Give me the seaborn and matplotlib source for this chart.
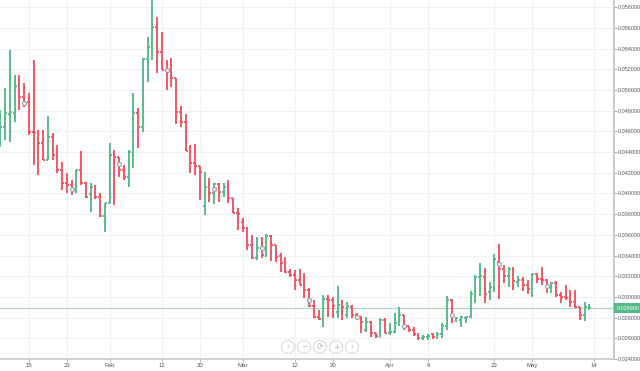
import numpy as np
import pandas as pd
import matplotlib
matplotlib.use("Agg")
import matplotlib.pyplot as plt
import matplotlib.dates as mdates
import matplotlib.transforms as mtransforms
from matplotlib.patches import Ellipse
import seaborn as sns

# ---------------- data ----------------
start_date = "2018-01-09"

opens = [0.04517, 0.04642, 0.04768, 0.04777, 0.05038, 0.04932, 0.04884, 0.04594, 0.04497, 0.04488,
         0.04323, 0.04546, 0.04372, 0.04227, 0.04101, 0.04082, 0.04014, 0.04227, 0.04101, 0.03995,
         0.04034, 0.03966, 0.03782, 0.03908, 0.04372, 0.04352, 0.04227, 0.04159, 0.04401, 0.04777,
         0.04642, 0.05299, 0.05415, 0.05608, 0.05367, 0.05193, 0.05173, 0.05116, 0.04787, 0.04690,
         0.04410, 0.04294, 0.04265, 0.03879, 0.04034, 0.04005, 0.04092, 0.04014, 0.04082, 0.03956,
         0.03811, 0.03724, 0.03666, 0.03502, 0.03377, 0.03473, 0.03406, 0.03589, 0.03502, 0.03396,
         0.03328, 0.03241, 0.03212, 0.03164, 0.03116, 0.03068, 0.02913, 0.02807, 0.02788, 0.02981,
         0.02971, 0.02855, 0.02923, 0.02826, 0.02903, 0.02826, 0.02807, 0.02681, 0.02759, 0.02652,
         0.02613, 0.02778, 0.02652, 0.02662, 0.02749, 0.02826, 0.02720, 0.02681, 0.02643, 0.02604,
         0.02613, 0.02643, 0.02613, 0.02643, 0.02720, 0.02971, 0.02778, 0.02778, 0.02797, 0.02807,
         0.03029, 0.03193, 0.03193, 0.03048, 0.03097, 0.03338, 0.03271, 0.03203, 0.03271, 0.03145,
         0.03164, 0.03116, 0.03077, 0.03222, 0.03174, 0.03164, 0.03048, 0.03135, 0.03019, 0.03000,
         0.02990, 0.02952, 0.02903, 0.02826, 0.02884]

highs = [0.04806, 0.05019, 0.05386, 0.05144, 0.05144, 0.05067, 0.04971, 0.05289, 0.04613, 0.04613,
         0.04748, 0.04584, 0.04468, 0.04304, 0.04198, 0.04130, 0.04227, 0.04410, 0.04111, 0.04101,
         0.04082, 0.04005, 0.03908, 0.04488, 0.04420, 0.04352, 0.04275, 0.04420, 0.04971, 0.04826,
         0.05309, 0.05512, 0.05898, 0.05705, 0.05560, 0.05289, 0.05309, 0.05116, 0.04845, 0.04768,
         0.04468, 0.04478, 0.04265, 0.04207, 0.04150, 0.04101, 0.04101, 0.04101, 0.04130, 0.03956,
         0.03860, 0.03763, 0.03676, 0.03599, 0.03580, 0.03580, 0.03609, 0.03599, 0.03502, 0.03425,
         0.03386, 0.03271, 0.03261, 0.03271, 0.03232, 0.03087, 0.02971, 0.02874, 0.03019, 0.03019,
         0.03000, 0.03106, 0.02971, 0.02952, 0.02923, 0.02845, 0.02817, 0.02807, 0.02768, 0.02652,
         0.02797, 0.02797, 0.02749, 0.02845, 0.02903, 0.02826, 0.02720, 0.02711, 0.02652, 0.02633,
         0.02643, 0.02652, 0.02662, 0.02749, 0.03010, 0.02981, 0.02807, 0.02817, 0.02817, 0.03058,
         0.03212, 0.03328, 0.03280, 0.03145, 0.03415, 0.03512, 0.03309, 0.03290, 0.03290, 0.03203,
         0.03193, 0.03164, 0.03232, 0.03232, 0.03290, 0.03174, 0.03145, 0.03155, 0.03048, 0.03116,
         0.03068, 0.03068, 0.02903, 0.02952, 0.02932]

lows = [0.04449, 0.04517, 0.04497, 0.04690, 0.04806, 0.04835, 0.04565, 0.04275, 0.04179, 0.04323,
        0.04323, 0.04323, 0.04198, 0.04034, 0.04005, 0.03985, 0.04005, 0.04082, 0.03956, 0.03821,
        0.03947, 0.03773, 0.03628, 0.03908, 0.03889, 0.04159, 0.04130, 0.04063, 0.04246, 0.04439,
        0.04594, 0.05077, 0.05289, 0.05164, 0.05193, 0.05000, 0.05029, 0.04671, 0.04642, 0.04410,
        0.04198, 0.04179, 0.03937, 0.03792, 0.03918, 0.03898, 0.03918, 0.03966, 0.03908, 0.03811,
        0.03647, 0.03628, 0.03454, 0.03367, 0.03357, 0.03377, 0.03386, 0.03348, 0.03338, 0.03241,
        0.03232, 0.03193, 0.03068, 0.03116, 0.02990, 0.02903, 0.02797, 0.02778, 0.02711, 0.02807,
        0.02797, 0.02797, 0.02778, 0.02797, 0.02797, 0.02797, 0.02652, 0.02662, 0.02613, 0.02604,
        0.02613, 0.02652, 0.02633, 0.02652, 0.02720, 0.02681, 0.02662, 0.02623, 0.02585, 0.02585,
        0.02585, 0.02594, 0.02594, 0.02604, 0.02681, 0.02749, 0.02759, 0.02711, 0.02749, 0.02797,
        0.02942, 0.03010, 0.02942, 0.02971, 0.03048, 0.02981, 0.03135, 0.03097, 0.03068, 0.03097,
        0.03058, 0.03029, 0.03000, 0.03135, 0.03116, 0.03039, 0.03039, 0.03000, 0.02942, 0.02971,
        0.02903, 0.02894, 0.02778, 0.02768, 0.02880]

closes = [0.04642, 0.04777, 0.04787, 0.05038, 0.04932, 0.04874, 0.04594, 0.04584, 0.04488, 0.04323,
          0.04546, 0.04372, 0.04227, 0.04101, 0.04082, 0.04043, 0.04227, 0.04101, 0.03966, 0.04063,
          0.03966, 0.03782, 0.03908, 0.04372, 0.04352, 0.04227, 0.04159, 0.04401, 0.04777, 0.04642,
          0.05299, 0.05415, 0.05608, 0.05367, 0.05193, 0.05173, 0.05116, 0.04787, 0.04690, 0.04410,
          0.04294, 0.04265, 0.04207, 0.04063, 0.04005, 0.04092, 0.04014, 0.04063, 0.03956, 0.03811,
          0.03802, 0.03666, 0.03502, 0.03377, 0.03473, 0.03406, 0.03589, 0.03502, 0.03386, 0.03328,
          0.03241, 0.03212, 0.03164, 0.03116, 0.03068, 0.02913, 0.02807, 0.02788, 0.02981, 0.02971,
          0.02913, 0.02923, 0.02903, 0.02913, 0.02826, 0.02807, 0.02759, 0.02759, 0.02652, 0.02623,
          0.02778, 0.02652, 0.02662, 0.02749, 0.02826, 0.02720, 0.02681, 0.02643, 0.02604, 0.02613,
          0.02623, 0.02613, 0.02643, 0.02720, 0.02971, 0.02817, 0.02797, 0.02807, 0.02807, 0.03029,
          0.03193, 0.03203, 0.03029, 0.03097, 0.03367, 0.03271, 0.03203, 0.03271, 0.03155, 0.03164,
          0.03116, 0.03077, 0.03222, 0.03174, 0.03164, 0.03106, 0.03135, 0.03019, 0.03000, 0.02990,
          0.02952, 0.02903, 0.02826, 0.02903, 0.02890]

# event markers (bar index, value)
marker_idx = [5, 15, 25, 35, 45, 55, 65, 75, 85, 95, 105, 115]
marker_vals = [0.04874, 0.04043, 0.04285, 0.05193, 0.04043, 0.03473, 0.02971, 0.02807,
               0.02720, 0.02826, 0.03319, 0.03106]

xtick_dates = ["2018-01-15", "2018-01-23", "2018-02-01", "2018-02-12", "2018-02-20",
               "2018-03-01", "2018-03-12", "2018-03-20", "2018-04-01", "2018-04-09",
               "2018-04-23", "2018-05-01", "2018-05-14"]
xtick_labels = ["15", "23", "Feb", "12", "20", "Mar", "12", "20", "Apr", "9", "23", "May", "14"]

ytick_vals = [0.024, 0.026, 0.028, 0.030, 0.032, 0.034, 0.036, 0.038, 0.040, 0.042,
              0.044, 0.046, 0.048, 0.050, 0.052, 0.054, 0.056, 0.058]

last_price = 0.0289
last_label = "0.028900"

# ---------------- style ----------------
UP = "#53b987"
DOWN = "#f4515f"
GRID = "#edf1f6"

sns.set_theme(style="white")
plt.rcParams["font.family"] = ["Liberation Sans", "DejaVu Sans"]

fig = plt.figure(figsize=(6.4, 3.71), dpi=100)
ax = fig.add_axes([0.0, 12 / 371, 614 / 640, 359 / 371])

dates = pd.date_range(start_date, periods=len(opens), freq="D")
x = mdates.date2num(dates.to_pydatetime())
o = np.array(opens); h = np.array(highs); l = np.array(lows); c = np.array(closes)
cols = np.where(c >= o, UP, DOWN)

# grid
for d in xtick_dates:
    ax.axvline(mdates.date2num(pd.Timestamp(d)), color=GRID, lw=0.8, zorder=0)
for v in ytick_vals:
    ax.axhline(v, color=GRID, lw=0.8, zorder=0)

# current price line
ax.axhline(last_price, color="#a9d9c0", lw=0.8, zorder=1)

# OHLC bars
lw = 1.35
tick = 0.4
ax.vlines(x, l, h, colors=cols, lw=lw, zorder=2)
ax.hlines(o, x - tick, x, colors=cols, lw=lw, zorder=2)
ax.hlines(c, x, x + tick, colors=cols, lw=lw, zorder=2)

# event markers
mdf = pd.DataFrame({"date": [dates[i] for i in marker_idx], "val": marker_vals})
sns.scatterplot(data=mdf, x="date", y="val", ax=ax, s=9, color="#ececec",
                edgecolor="#9c9c9c", linewidth=0.7, zorder=3, legend=False)

# axes limits
x0 = mdates.date2num(pd.Timestamp(start_date)) - 0.1
ax.set_xlim(x0, x0 + 614 / 4.75)
ax.set_ylim(0.02401, 0.05869)

# ticks
FS = 3.9
ax.yaxis.tick_right()
ax.set_yticks(ytick_vals)
ax.set_yticklabels([f"{v:.6f}" for v in ytick_vals])
ax.set_xticks([mdates.date2num(pd.Timestamp(d)) for d in xtick_dates])
ax.set_xticklabels(xtick_labels)
ax.tick_params(axis="y", which="both", right=True, left=False, length=2.0, width=0.6,
               color="#9a9a9a", labelsize=FS, labelcolor="#555555", pad=1.0)
ax.tick_params(axis="x", which="both", bottom=True, length=2, width=0.6,
               color="#b0b0b0", labelsize=4.4, labelcolor="#555555", pad=1.2)
ax.set_xlabel("")
ax.set_ylabel("")

for s in ["top", "left"]:
    ax.spines[s].set_visible(False)
ax.spines["right"].set_color("#c8c8c8")
ax.spines["right"].set_linewidth(1.4)
ax.spines["bottom"].set_color("#d0d0d0")
ax.spines["bottom"].set_linewidth(1.4)
ax.set_facecolor("white")

# current price label on the axis
trans = mtransforms.blended_transform_factory(ax.transAxes, ax.transData)
ax.text(1.0045, last_price, last_label, transform=trans, ha="left", va="center",
        fontsize=FS, color="white", clip_on=False, zorder=5,
        bbox=dict(boxstyle="square,pad=0.45", fc=UP, ec="none"))

# navigation buttons
btn_x = [288, 304, 320, 336, 352]
btn_sym = ["\u2039", "\u2212", "\u27f3", "+", "\u203a"]
for bx, sym in zip(btn_x, btn_sym):
    fx, fy = bx / 640, (371 - 347) / 371
    e = Ellipse((fx, fy), 13 / 640, 13 / 371, transform=fig.transFigure,
                fc="white", ec="#d9d9d9", lw=0.8, zorder=10)
    fig.patches.append(e)
    fig.text(fx, fy, sym, ha="center", va="center", fontsize=5.5, color="#b5b5b5",
             zorder=11, family=["DejaVu Sans"])

fig.savefig("out.png", dpi=100)
